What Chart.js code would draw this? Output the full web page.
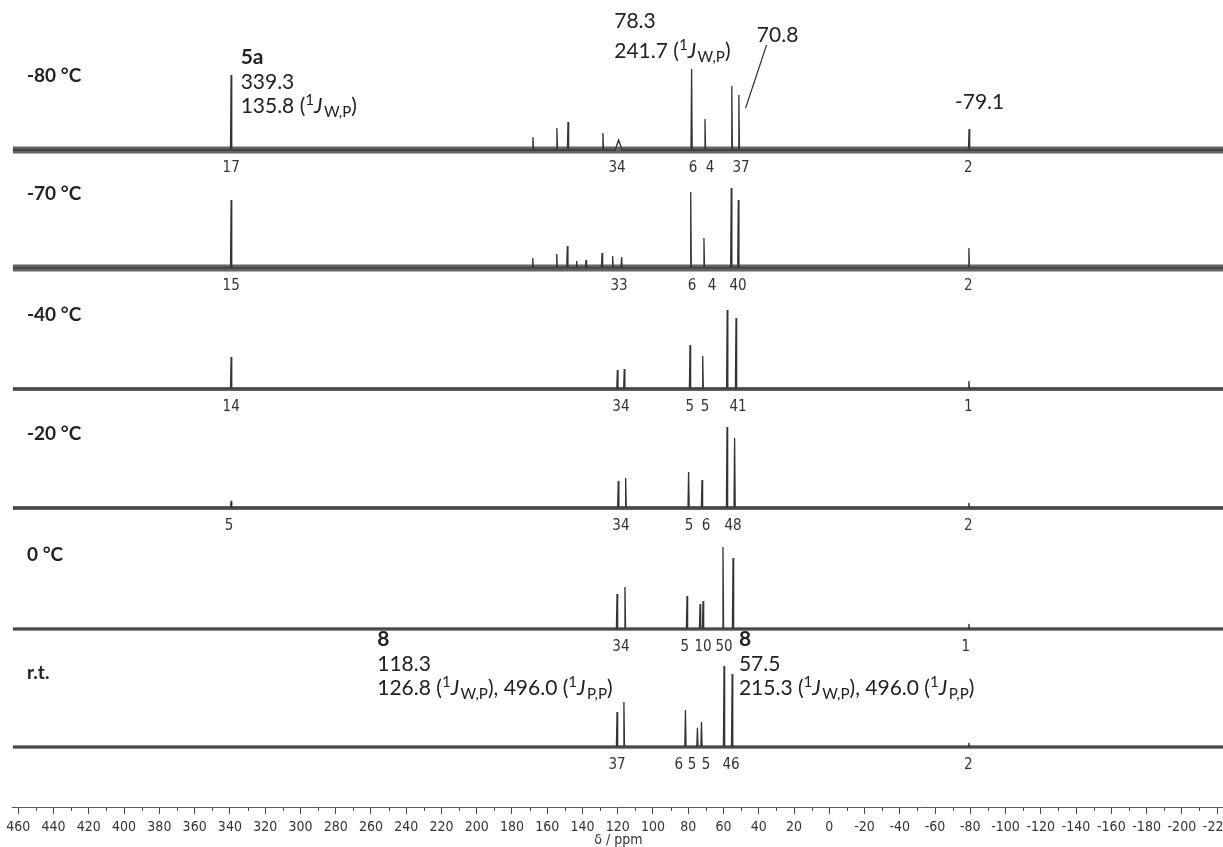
<!DOCTYPE html>
<html><head><meta charset="utf-8">
<script src="https://cdn.jsdelivr.net/npm/chart.js@4"></script>
<style>
html,body{margin:0;padding:0;background:#fff;overflow:hidden}
#wrap{position:relative;width:1223px;height:847px;overflow:hidden;background:#fff}
#c{position:absolute;left:0;top:0}
</style></head><body>
<div id="wrap"><canvas id="c" width="1262" height="847"></canvas></div>
<script>
// ---- data (ppm, relative intensity) ----
const temperatures = ['-80 °C', '-70 °C', '-40 °C', '-20 °C', '0 °C', 'r.t.'];
const peaks_m80 = [[339.3,75],[168.1,13],[154.5,22],[148.2,28],[128.4,17],[119.5,10,2],[78.1,81],[70.5,31],[55.3,64],[51.3,55],[-79.3,21]];
const peaks_m70 = [[339.3,68],[168.2,10],[154.6,14],[148.6,22],[143.3,7],[138.0,8],[128.9,15],[122.9,12],[117.8,11],[78.6,76],[71.1,30],[55.6,80],[51.6,68],[-79.2,20]];
const peaks_m40 = [[339.3,32],[120.2,19],[116.3,20],[79.0,44],[71.8,33],[57.9,79],[52.9,71],[-79.2,8]];
const peaks_m20 = [[339.3,7],[119.7,27],[115.5,30],[79.8,36],[72.2,28],[58.0,81],[53.7,70],[-79.2,5]];
const peaks_0   = [[120.4,35],[115.9,42],[80.7,33],[73.3,25],[71.6,28],[60.3,82],[54.6,71],[-79.2,5]];
const peaks_rt  = [[120.4,35],[116.5,45],[81.6,37],[74.8,19],[72.5,25],[59.7,81],[55.1,73],[-79.2,4]];
// integrals (ppm, value)
const integ_m80 = [[339.3,'17'],[120.4,'34'],[77.3,'6'],[67.7,'4'],[50.1,'37'],[-78.8,'2']];
const integ_m70 = [[339.3,'15'],[119.3,'33'],[77.9,'6'],[66.5,'4'],[51.8,'40'],[-78.8,'2']];
const integ_m40 = [[339.3,'14'],[118.2,'34'],[79.1,'5'],[70.5,'5'],[51.8,'41'],[-78.8,'1']];
const integ_m20 = [[340.5,'5'],[118.2,'34'],[79.6,'5'],[69.9,'6'],[54.6,'48'],[-78.8,'2']];
const integ_0   = [[118.2,'34'],[81.9,'5'],[71.6,'10'],[59.7,'50'],[-77.5,'1']];
const integ_rt  = [[120.4,'37'],[85.3,'6'],[77.9,'5'],[69.9,'5'],[55.7,'46'],[-78.8,'2']];
const xTickStep = 20;
const axisTitle = 'δ / ppm';

const allPeaks = [peaks_m80, peaks_m70, peaks_m40, peaks_m20, peaks_0, peaks_rt];
const allInteg = [integ_m80, integ_m70, integ_m40, integ_m20, integ_0, integ_rt];

// ---- layout (stack offsets, styles) ----
const X_MAX = 463.2, X_MIN = -223.9;
const offsets = [658, 540, 419, 300, 179, 61];
const noiseW = [7, 7, 4, 4, 3.5, 3.5];
const FONT_ANN = 'Lato, "Open Sans", sans-serif';
const FONT_AX = '"DejaVu Sans Condensed", "Liberation Sans", sans-serif';

function spectrum(peaks, off) {
  const pts = [{x: X_MAX, y: off}];
  const sorted = peaks.slice().sort((a, b) => b[0] - a[0]);
  for (const p of sorted) {
    const w = p[2] || 0.35;
    pts.push({x: p[0] + w, y: off});
    pts.push({x: p[0], y: off + p[1]});
    pts.push({x: p[0] - w, y: off});
  }
  pts.push({x: X_MIN, y: off});
  return pts;
}

const datasets = [];
allPeaks.forEach((pk, i) => {
  datasets.push({data: [{x: X_MAX, y: offsets[i]}, {x: X_MIN, y: offsets[i]}], borderColor: 'rgba(60,60,60,0.8)', borderWidth: noiseW[i], pointRadius: 0, tension: 0});
  datasets.push({data: spectrum(pk, offsets[i]), borderColor: '#333', borderWidth: 1.3, pointRadius: 0, tension: 0});
});

function drawRich(ctx, x, y, parts, size, color, measureOnly) {
  let cx = x;
  ctx.fillStyle = color;
  ctx.textBaseline = 'alphabetic';
  ctx.textAlign = 'left';
  for (const p of parts) {
    let s = size, dy = 0, st = '';
    if (p.sup) { s = size * 0.72; dy = -size * 0.36; }
    if (p.sub) { s = size * 0.72; dy = size * 0.2; }
    if (p.i) st = 'italic ';
    if (p.b) st = 'bold ';
    ctx.font = st + s + 'px ' + FONT_ANN;
    if (!measureOnly) ctx.fillText(p.t, cx, y + dy);
    cx += ctx.measureText(p.t).width + (p.i ? 1.5 : 0);
  }
  return cx - x;
}
const J = (a, b) => [{t: '1', sup: true}, {t: 'J', i: true}, {t: a + ',' + b, sub: true}];

const annot = {
  id: 'annot',
  afterDatasetsDraw(chart) {
    const ctx = chart.ctx, xs = chart.scales.x, ys = chart.scales.y;
    ctx.save();
    // minor ticks
    ctx.strokeStyle = '#444'; ctx.lineWidth = 1;
    const yAx = chart.chartArea.bottom;
    for (let v = Math.ceil(X_MIN / 10) * 10; v <= X_MAX; v += 10) {
      if (Math.abs(v % 20) === 10) {
        const px = Math.round(xs.getPixelForValue(v)) + 0.5;
        ctx.beginPath(); ctx.moveTo(px, yAx); ctx.lineTo(px, yAx + 3); ctx.stroke();
      }
    }
    const B = offsets.map(o => ys.getPixelForValue(o));
    // temperature labels
    temperatures.forEach((t, i) => drawRich(ctx, 27, B[i] - 68, [{t, b: true}], 19, '#222'));
    // integrals
    allInteg.forEach((arr, i) => arr.forEach(([p, v]) => {
      ctx.font = '15px ' + FONT_AX; ctx.fillStyle = '#333'; ctx.textAlign = 'center'; ctx.textBaseline = 'middle';
      ctx.fillText(v, xs.getPixelForValue(p), B[i] + 18);
    }));
    const c = '#222', S = 21;
    // -80 °C annotations
    const xa = xs.getPixelForValue(339.3) + 9.5;
    drawRich(ctx, xa, B[0] - 86, [{t: '5a', b: true}], S, c);
    drawRich(ctx, xa, B[0] - 61, [{t: '339.3'}], S, c);
    drawRich(ctx, xa, B[0] - 37, [{t: '135.8 ('}, ...J('W', 'P'), {t: ')'}], S, c);
    const xb = xs.getPixelForValue(78.3) - 77;
    drawRich(ctx, xb, B[0] - 122, [{t: '78.3'}], S, c);
    drawRich(ctx, xb, B[0] - 92, [{t: '241.7 ('}, ...J('W', 'P'), {t: ')'}], S, c);
    const xc = xs.getPixelForValue(51.3);
    drawRich(ctx, xc + 18, B[0] - 108.3, [{t: '70.8'}], S, c);
    ctx.strokeStyle = '#333'; ctx.lineWidth = 1.2;
    ctx.beginPath(); ctx.moveTo(xc + 27.7, B[0] - 105); ctx.lineTo(xc + 6.7, B[0] - 41.7); ctx.stroke();
    drawRich(ctx, xs.getPixelForValue(-79.1) - 13.8, B[0] - 41, [{t: '-79.1'}], S, c);
    // r.t. annotations
    const lineL = [{t: '126.8 ('}, ...J('W', 'P'), {t: '), 496.0 ('}, ...J('P', 'P'), {t: ')'}];
    const wL = drawRich(ctx, 0, 0, lineL, S, c, true);
    const xl = xs.getPixelForValue(118.3) - 8 - wL;
    drawRich(ctx, xl, B[5] - 101, [{t: '8', b: true}], S, c);
    drawRich(ctx, xl, B[5] - 76, [{t: '118.3'}], S, c);
    drawRich(ctx, xl, B[5] - 52, lineL, S, c);
    const xr = xs.getPixelForValue(57.5) + 11;
    drawRich(ctx, xr, B[5] - 101, [{t: '8', b: true}], S, c);
    drawRich(ctx, xr, B[5] - 76, [{t: '57.5'}], S, c);
    drawRich(ctx, xr, B[5] - 52, [{t: '215.3 ('}, ...J('W', 'P'), {t: '), 496.0 ('}, ...J('P', 'P'), {t: ')'}], S, c);
    ctx.restore();
  }
};

new Chart(document.getElementById('c'), {
  type: 'line',
  data: {datasets},
  options: {
    responsive: false, animation: false, devicePixelRatio: 1,
    layout: {padding: {left: 12.7, right: 38, top: 0, bottom: 0}},
    plugins: {legend: {display: false}, tooltip: {enabled: false}},
    scales: {
      x: {
        type: 'linear', reverse: true, min: X_MIN, max: X_MAX,
        border: {display: true, color: '#555', width: 1},
        grid: {display: true, drawOnChartArea: false, drawTicks: true, tickLength: 6, tickColor: '#444', tickWidth: 1},
        ticks: {stepSize: xTickStep, includeBounds: false, autoSkip: false, maxRotation: 0, padding: 5, color: '#333',
                font: {family: FONT_AX, size: 14}, callback: v => String(v)},
        title: {display: true, text: axisTitle, color: '#333', font: {family: FONT_AX, size: 14, lineHeight: 0.88}, padding: {top: -6, bottom: 0}}
      },
      y: {type: 'linear', display: false, min: 0, max: 808}
    }
  },
  plugins: [annot]
});
</script>
</body></html>
